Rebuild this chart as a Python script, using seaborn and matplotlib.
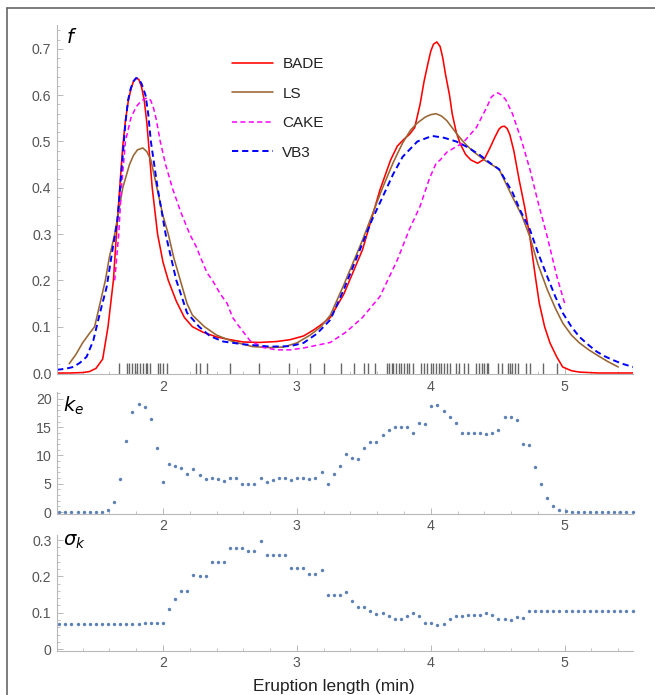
import numpy as np
import pandas as pd
import matplotlib
matplotlib.use("Agg")
import matplotlib.pyplot as plt
import seaborn as sns
from matplotlib.ticker import MultipleLocator
from matplotlib.lines import Line2D

# ---------------- data ----------------
bade_x = [1.21, 1.30, 1.40, 1.45, 1.50, 1.55, 1.59, 1.63, 1.66, 1.68, 1.70, 1.72, 1.74, 1.76,
          1.78, 1.80, 1.82, 1.84, 1.86, 1.88, 1.90, 1.92, 1.96, 2.00, 2.04, 2.10, 2.16, 2.22,
          2.30, 2.40, 2.50, 2.60, 2.72, 2.85, 2.95, 3.05, 3.12, 3.18, 3.25, 3.35, 3.49, 3.62,
          3.70, 3.75, 3.80, 3.84, 3.88, 3.92, 3.95, 3.98, 4.00, 4.02, 4.045, 4.07, 4.09, 4.11,
          4.14, 4.16, 4.19, 4.22, 4.26, 4.30, 4.35, 4.40, 4.44, 4.48, 4.51, 4.53, 4.55, 4.57,
          4.59, 4.62, 4.66, 4.70, 4.74, 4.78, 4.81, 4.85, 4.89, 4.94, 4.985, 5.05, 5.11, 5.25,
          5.51]
bade_y = [0.0, 0.0, 0.001, 0.003, 0.010, 0.030, 0.10, 0.20, 0.33, 0.41, 0.49, 0.545, 0.585, 0.612,
          0.630, 0.637, 0.634, 0.618, 0.59, 0.54, 0.47, 0.40, 0.30, 0.24, 0.20, 0.155, 0.12, 0.10,
          0.088, 0.078, 0.072, 0.067, 0.066, 0.068, 0.072, 0.080, 0.092, 0.104, 0.12, 0.17, 0.266, 0.395,
          0.46, 0.49, 0.505, 0.515, 0.53, 0.58, 0.63, 0.67, 0.695, 0.71, 0.715, 0.705, 0.68, 0.645,
          0.60, 0.56, 0.52, 0.495, 0.472, 0.46, 0.453, 0.462, 0.485, 0.51, 0.527, 0.532, 0.533, 0.528,
          0.515, 0.48, 0.417, 0.36, 0.294, 0.21, 0.151, 0.10, 0.065, 0.035, 0.013, 0.005, 0.002, 0.0,
          0.0]

ls_x = [1.30, 1.35, 1.40, 1.45, 1.49, 1.53, 1.57, 1.60, 1.64, 1.67, 1.70, 1.75, 1.78, 1.81,
        1.85, 1.88, 1.91, 1.94, 1.97, 2.00, 2.04, 2.08, 2.13, 2.18, 2.22, 2.31, 2.40, 2.52,
        2.67, 2.80, 2.90, 3.00, 3.10, 3.18, 3.25, 3.35, 3.49, 3.56, 3.64, 3.72, 3.79, 3.85,
        3.90, 3.96, 4.00, 4.04, 4.08, 4.12, 4.19, 4.25, 4.31, 4.40, 4.51, 4.56, 4.61, 4.68,
        4.74, 4.80, 4.87, 4.93, 4.985, 5.05, 5.11, 5.18, 5.24, 5.32, 5.40]
ls_y = [0.02, 0.04, 0.065, 0.085, 0.10, 0.15, 0.20, 0.25, 0.30, 0.35, 0.40, 0.45, 0.47, 0.482,
        0.486, 0.478, 0.46, 0.42, 0.38, 0.34, 0.30, 0.25, 0.20, 0.15, 0.125, 0.10, 0.082, 0.068,
        0.057, 0.055, 0.056, 0.065, 0.082, 0.10, 0.125, 0.19, 0.287, 0.34, 0.40, 0.455, 0.497, 0.525,
        0.54, 0.553, 0.558, 0.56, 0.555, 0.545, 0.518, 0.497, 0.48, 0.46, 0.44, 0.41, 0.38, 0.34,
        0.294, 0.235, 0.18, 0.14, 0.108, 0.082, 0.065, 0.05, 0.039, 0.025, 0.013]

cake_x = [1.64, 1.67, 1.69, 1.72, 1.76, 1.80, 1.83, 1.86, 1.89, 1.91, 1.93, 1.95, 1.98, 2.02,
          2.07, 2.13, 2.20, 2.25, 2.28, 2.33, 2.37, 2.43, 2.48, 2.52, 2.57, 2.65, 2.75, 2.85,
          2.95, 3.05, 3.15, 3.25, 3.37, 3.49, 3.62, 3.75, 3.84, 3.92, 3.99, 4.04, 4.07, 4.12,
          4.24, 4.34, 4.42, 4.45, 4.48, 4.50, 4.53, 4.56, 4.61, 4.68, 4.74, 4.80, 4.87, 4.94,
          5.00]
cake_y = [0.20, 0.30, 0.40, 0.50, 0.55, 0.575, 0.585, 0.592, 0.594, 0.588, 0.572, 0.548, 0.50, 0.45,
          0.40, 0.35, 0.30, 0.272, 0.25, 0.216, 0.20, 0.17, 0.15, 0.12, 0.10, 0.07, 0.055, 0.05,
          0.05, 0.054, 0.06, 0.066, 0.089, 0.12, 0.165, 0.244, 0.31, 0.36, 0.42, 0.453, 0.46, 0.477,
          0.497, 0.53, 0.575, 0.595, 0.603, 0.605, 0.60, 0.59, 0.56, 0.50, 0.44, 0.37, 0.294, 0.21,
          0.15]

vb3_x = [1.21, 1.27, 1.33, 1.38, 1.43, 1.48, 1.53, 1.58, 1.62, 1.66, 1.68, 1.70, 1.72, 1.74,
         1.76, 1.78, 1.80, 1.82, 1.84, 1.87, 1.89, 1.91, 1.96, 2.02, 2.10, 2.18, 2.27, 2.35,
         2.45, 2.60, 2.80, 2.95, 3.05, 3.15, 3.25, 3.35, 3.49, 3.56, 3.64, 3.72, 3.79, 3.90,
         4.01, 4.10, 4.19, 4.28, 4.37, 4.45, 4.51, 4.56, 4.61, 4.67, 4.74, 4.80, 4.87, 4.93,
         4.985, 5.05, 5.11, 5.18, 5.24, 5.30, 5.36, 5.43, 5.51]
vb3_y = [0.007, 0.009, 0.013, 0.022, 0.035, 0.07, 0.13, 0.186, 0.26, 0.33, 0.40, 0.47, 0.54, 0.59,
         0.615, 0.630, 0.637, 0.635, 0.625, 0.60, 0.56, 0.50, 0.40, 0.30, 0.20, 0.13, 0.10, 0.08,
         0.068, 0.062, 0.057, 0.058, 0.065, 0.085, 0.115, 0.18, 0.28, 0.33, 0.38, 0.43, 0.467, 0.50,
         0.512, 0.508, 0.50, 0.487, 0.47, 0.452, 0.44, 0.415, 0.39, 0.35, 0.31, 0.26, 0.208, 0.165,
         0.13, 0.10, 0.078, 0.06, 0.046, 0.036, 0.028, 0.02, 0.013]

rug_x = [1.67, 1.73, 1.75, 1.77, 1.79, 1.81, 1.83, 1.85, 1.87, 1.88, 1.90, 1.96, 1.98, 2.00,
         2.03, 2.25, 2.28, 2.33, 2.50, 2.72, 2.94, 3.10, 3.20, 3.33, 3.43, 3.50, 3.53, 3.58,
         3.67, 3.69, 3.71, 3.72, 3.74, 3.76, 3.78, 3.80, 3.82, 3.84, 3.87, 3.93, 3.95, 3.97,
         4.00, 4.02, 4.04, 4.06, 4.08, 4.10, 4.12, 4.14, 4.19, 4.21, 4.25, 4.28, 4.34, 4.36,
         4.38, 4.40, 4.42, 4.43, 4.50, 4.53, 4.58, 4.59, 4.61, 4.63, 4.65, 4.71, 4.74, 4.84, 4.94]

ke = [0, 0, 0, 0, 0, 0, 0, 0, 0.3, 1.8,
      5.8, 12.5, 17.7, 19.1, 18.5, 16.5, 11.3, 5.3, 8.5, 8.1,
      7.8, 6.8, 7.6, 6.5, 5.8, 6.0, 5.8, 5.5, 6.0, 6.0,
      5.0, 5.0, 5.0, 6.0, 5.3, 5.7, 6.0, 6.0, 5.7, 6.0,
      6.0, 5.9, 6.0, 7.0, 5.0, 6.7, 8.1, 10.3, 9.5, 9.3,
      11.4, 12.4, 12.4, 13.7, 14.5, 15.0, 15.0, 15.0, 14.0, 15.7,
      15.5, 18.7, 18.9, 17.8, 16.8, 15.7, 14.0, 14.0, 14.0, 14.0,
      13.8, 14.0, 14.5, 16.9, 16.9, 16.2, 12.0, 11.8, 7.9, 5.0,
      2.5, 1.1, 0.35, 0.1, 0, 0, 0, 0, 0, 0,
      0, 0, 0, 0, 0]

sigma_k = [0.07, 0.07, 0.07, 0.07, 0.07, 0.07, 0.07, 0.07, 0.07, 0.07,
           0.07, 0.07, 0.07, 0.07, 0.073, 0.073, 0.073, 0.073, 0.111, 0.139,
           0.161, 0.161, 0.203, 0.200, 0.200, 0.239, 0.239, 0.239, 0.277, 0.277,
           0.277, 0.270, 0.270, 0.297, 0.258, 0.258, 0.258, 0.258, 0.223, 0.223,
           0.223, 0.208, 0.208, 0.217, 0.150, 0.150, 0.150, 0.156, 0.131, 0.115,
           0.115, 0.106, 0.096, 0.098, 0.090, 0.084, 0.084, 0.090, 0.098, 0.090,
           0.073, 0.071, 0.065, 0.069, 0.082, 0.090, 0.090, 0.095, 0.095, 0.095,
           0.098, 0.094, 0.084, 0.083, 0.079, 0.088, 0.086, 0.106, 0.106, 0.106,
           0.106, 0.106, 0.106, 0.106, 0.106, 0.106, 0.106, 0.106, 0.106, 0.106,
           0.106, 0.106, 0.106, 0.106, 0.106]

grid_start, grid_end = 1.226, 5.507   # evaluation grid of the k_e / sigma_k points
x_ticks = [2, 3, 4, 5]
x_ticklabels = ["2", "3", "4", "5"]
f_ticks = [0.0, 0.1, 0.2, 0.3, 0.4, 0.5, 0.6, 0.7]
ke_ticks = [0, 5, 10, 15, 20]
sig_ticks = [0, 0.1, 0.2, 0.3]
sig_ticklabels = ["0", "0.1", "0.2", "0.3"]

# ---------------- style ----------------
sns.set_style("ticks")
plt.rcParams['font.family'] = ['Liberation Sans', 'DejaVu Sans']
plt.rcParams['mathtext.fontset'] = 'dejavusans'

AXC = '#b8b8b8'
LBL = '#555555'
PT = '#5e81b5'

fig = plt.figure(figsize=(6.55, 6.95), dpi=100)
L, W = 57 / 655, 576 / 655
ax1 = fig.add_axes([L, 1 - 374.4 / 695, W, 349.6 / 695])
ax2 = fig.add_axes([L, 1 - 513.7 / 695, W, 121.5 / 695])
ax3 = fig.add_axes([L, 1 - 650.5 / 695, W, 115.8 / 695])

# ---------------- top panel: densities ----------------
series = [
    ("BADE", bade_x, bade_y, '#ff0000', 1.15, None),
    ("LS", ls_x, ls_y, '#996633', 1.15, None),
    ("CAKE", cake_x, cake_y, '#ff00ff', 1.1, (3.3, 2.2)),
    ("VB3", vb3_x, vb3_y, '#0000ff', 1.4, (3.2, 2.0)),
]
for name, xs, ys, col, lw, dash in series:
    df = pd.DataFrame({"x": xs, "y": ys})
    sns.lineplot(data=df, x="x", y="y", ax=ax1, color=col, lw=lw, label=name,
                 sort=False, estimator=None)
    ax1.lines[-1].set_solid_joinstyle('round')
    if dash is not None:
        ax1.lines[-1].set_dashes(dash)

sns.rugplot(x=rug_x, ax=ax1, height=0.032, color='#666666', lw=0.9, expand_margins=False)

leg = ax1.legend(loc='upper left', bbox_to_anchor=(232 / 655, 1 - 57 / 695),
                 bbox_transform=fig.transFigure, frameon=False, fontsize=11,
                 handlelength=2.7, handletextpad=0.6, labelspacing=1.02,
                 borderpad=0, borderaxespad=0)
for t in leg.get_texts():
    t.set_color('#222222')

ax1.set_xlim(1.209, 5.51)
ax1.set_ylim(-0.003, 0.752)
ax1.set_yticks(f_ticks)
ax1.set_yticklabels([f"{v:.1f}" for v in f_ticks])
ax1.yaxis.set_minor_locator(MultipleLocator(0.02))
ax1.text(1.32, 0.724, r"$f$", fontsize=14, ha='center', va='center', color='black')

# ---------------- middle panel: k_e ----------------
xg = np.linspace(grid_start, grid_end, len(ke))
sns.scatterplot(x=xg, y=ke, ax=ax2, s=6, color=PT, linewidth=0, clip_on=False)
ax2.set_xlim(1.209, 5.51)
ax2.set_ylim(-0.3, 21.2)
ax2.set_yticks(ke_ticks)
ax2.set_yticklabels([str(v) for v in ke_ticks])
ax2.yaxis.set_minor_locator(MultipleLocator(1))
ax2.text(1.33, 18.8, r"$k_e$", fontsize=14, ha='center', va='center', color='black')

# ---------------- bottom panel: sigma_k ----------------
xg2 = np.linspace(grid_start, grid_end, len(sigma_k))
sns.scatterplot(x=xg2, y=sigma_k, ax=ax3, s=6, color=PT, linewidth=0, clip_on=False)
ax3.set_xlim(1.209, 5.51)
ax3.set_ylim(-0.004, 0.315)
ax3.set_yticks(sig_ticks)
ax3.set_yticklabels(sig_ticklabels)
ax3.yaxis.set_minor_locator(MultipleLocator(0.02))
ax3.text(1.34, 0.294, r"$\sigma_k$", fontsize=14, ha='center', va='center', color='black')

for ax in (ax1, ax2, ax3):
    ax.set_xticks(x_ticks)
    ax.set_xticklabels(x_ticklabels)
    ax.xaxis.set_minor_locator(MultipleLocator(0.2))
    ax.set_xlabel("")
    ax.set_ylabel("")
    for s in ("top", "right"):
        ax.spines[s].set_visible(False)
    for s in ("left", "bottom"):
        ax.spines[s].set_color(AXC)
        ax.spines[s].set_linewidth(0.8)
    ax.tick_params(which='major', direction='in', length=4, width=0.7, color=AXC,
                   labelcolor=LBL, labelsize=10.2, pad=4)
    ax.tick_params(which='minor', direction='in', length=2.2, width=0.6, color=AXC)
    ax.patch.set_alpha(0)

fig.text(334 / 655, 1 - 686 / 695, "Eruption length (min)", ha='center', va='center',
         fontsize=12.5, color='#222222')

# outer frame (left and top edges)
fig.add_artist(Line2D([7 / 655, 7 / 655], [0, 1 - 8 / 695], transform=fig.transFigure,
                      color='#666666', lw=1.2))
fig.add_artist(Line2D([7 / 655, 1], [1 - 8 / 695, 1 - 8 / 695], transform=fig.transFigure,
                      color='#666666', lw=1.2))

fig.savefig("out.png", dpi=100)
